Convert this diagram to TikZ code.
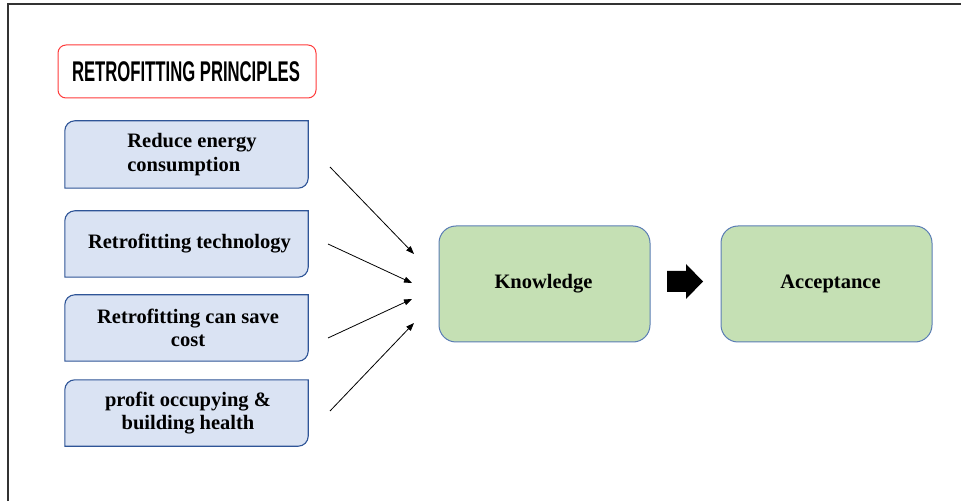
\documentclass[tikz,border=0pt]{standalone}
\usepackage{fontspec}
\setmainfont{Liberation Serif}
\newfontfamily\titlefont{Liberation Sans}
\usetikzlibrary{arrows.meta}
\definecolor{bluefill}{HTML}{DAE3F3}
\definecolor{blueline}{HTML}{2F5597}
\definecolor{greenfill}{HTML}{C5E0B4}
\definecolor{greenline}{HTML}{5B7DB5}
\definecolor{redline}{HTML}{FF3B3B}
\definecolor{framecol}{HTML}{333333}
\tikzset{
  txt/.style={font=\fontsize{20.5}{23.5}\selectfont\bfseries, text=black, align=center},
  bluebox/.style={fill=bluefill, draw=blueline, line width=1.1pt},
  greenbox/.style={fill=greenfill, draw=greenline, line width=1pt, rounded corners=17pt, minimum width=211pt, minimum height=116pt, inner sep=0pt},
  titlebox/.style={draw=redline, fill=white, line width=1pt, rounded corners=8pt, minimum width=258pt, minimum height=53pt, inner sep=0pt},
  boxframe/.style={minimum width=243pt, inner sep=0pt},
  conn/.style={line width=0.8pt, draw=black, -{Triangle[length=8pt,width=6pt]}}
}
\begin{document}
\begin{tikzpicture}[x=1pt,y=1pt]
\useasboundingbox (0,0) rectangle (961,501);
% frame (left and top only)
\draw[framecol, line width=1.5pt] (8,0) -- (8,497) -- (961,497);

% title
\node[titlebox] (title) at (187,429.5) {};
\node at (186,429.5) {\scalebox{0.585}[1]{\titlefont\bfseries\fontsize{28.5}{28.5}\selectfont RETROFITTING PRINCIPLES}};

% blue boxes (round diagonal corners)
\node[boxframe, minimum height=67pt] (b1) at (186.5,346.5) {};
\node[boxframe, minimum height=66pt] (b2) at (186.5,257) {};
\node[boxframe, minimum height=66pt] (b3) at (186.5,173) {};
\node[boxframe, minimum height=66pt] (b4) at (186.5,88) {};
\foreach \b in {b1,b2,b3,b4}{
  \path[bluebox] (\b.south west) -- ([yshift=-10pt]\b.north west)
    arc[start angle=180,end angle=90,radius=10pt] -- (\b.north east)
    -- ([yshift=10pt]\b.south east)
    arc[start angle=0,end angle=-90,radius=10pt] -- cycle;
}
\node[txt, align=left] (t1) at (192,346.5) {Reduce energy\\consumption};
\node[txt] (t2) at (189.5,257) {Retrofitting technology};
\node[txt] (t3) at (188,173) {Retrofitting can save\\cost};
\node[txt] (t4) at (188,88) {profit occupying \&\\building health};

% green boxes
\node[greenbox] (know) at (544.5,217) {};
\node[txt] at ([xshift=-1pt]know.center) {Knowledge};
\node[greenbox] (acc) at (826.5,217) {};
\node[txt] at ([xshift=4pt]acc.center) {Acceptance};

% block arrow
\fill[black] (667,209) -- (667,230) -- (686,230) -- (686,237) -- (703,219.5) -- (686,202) -- (686,209) -- cycle;

% connectors
\coordinate (s1) at (330,334); \coordinate (e1) at (414,247);
\coordinate (s2) at (328,257); \coordinate (e2) at (412,218);
\coordinate (s3) at (328,163); \coordinate (e3) at (412,202);
\coordinate (s4) at (330,90);  \coordinate (e4) at (414,178);
\draw[conn] (s1) -- (e1);
\draw[conn] (s2) -- (e2);
\draw[conn] (s3) -- (e3);
\draw[conn] (s4) -- (e4);
\end{tikzpicture}
\end{document}
